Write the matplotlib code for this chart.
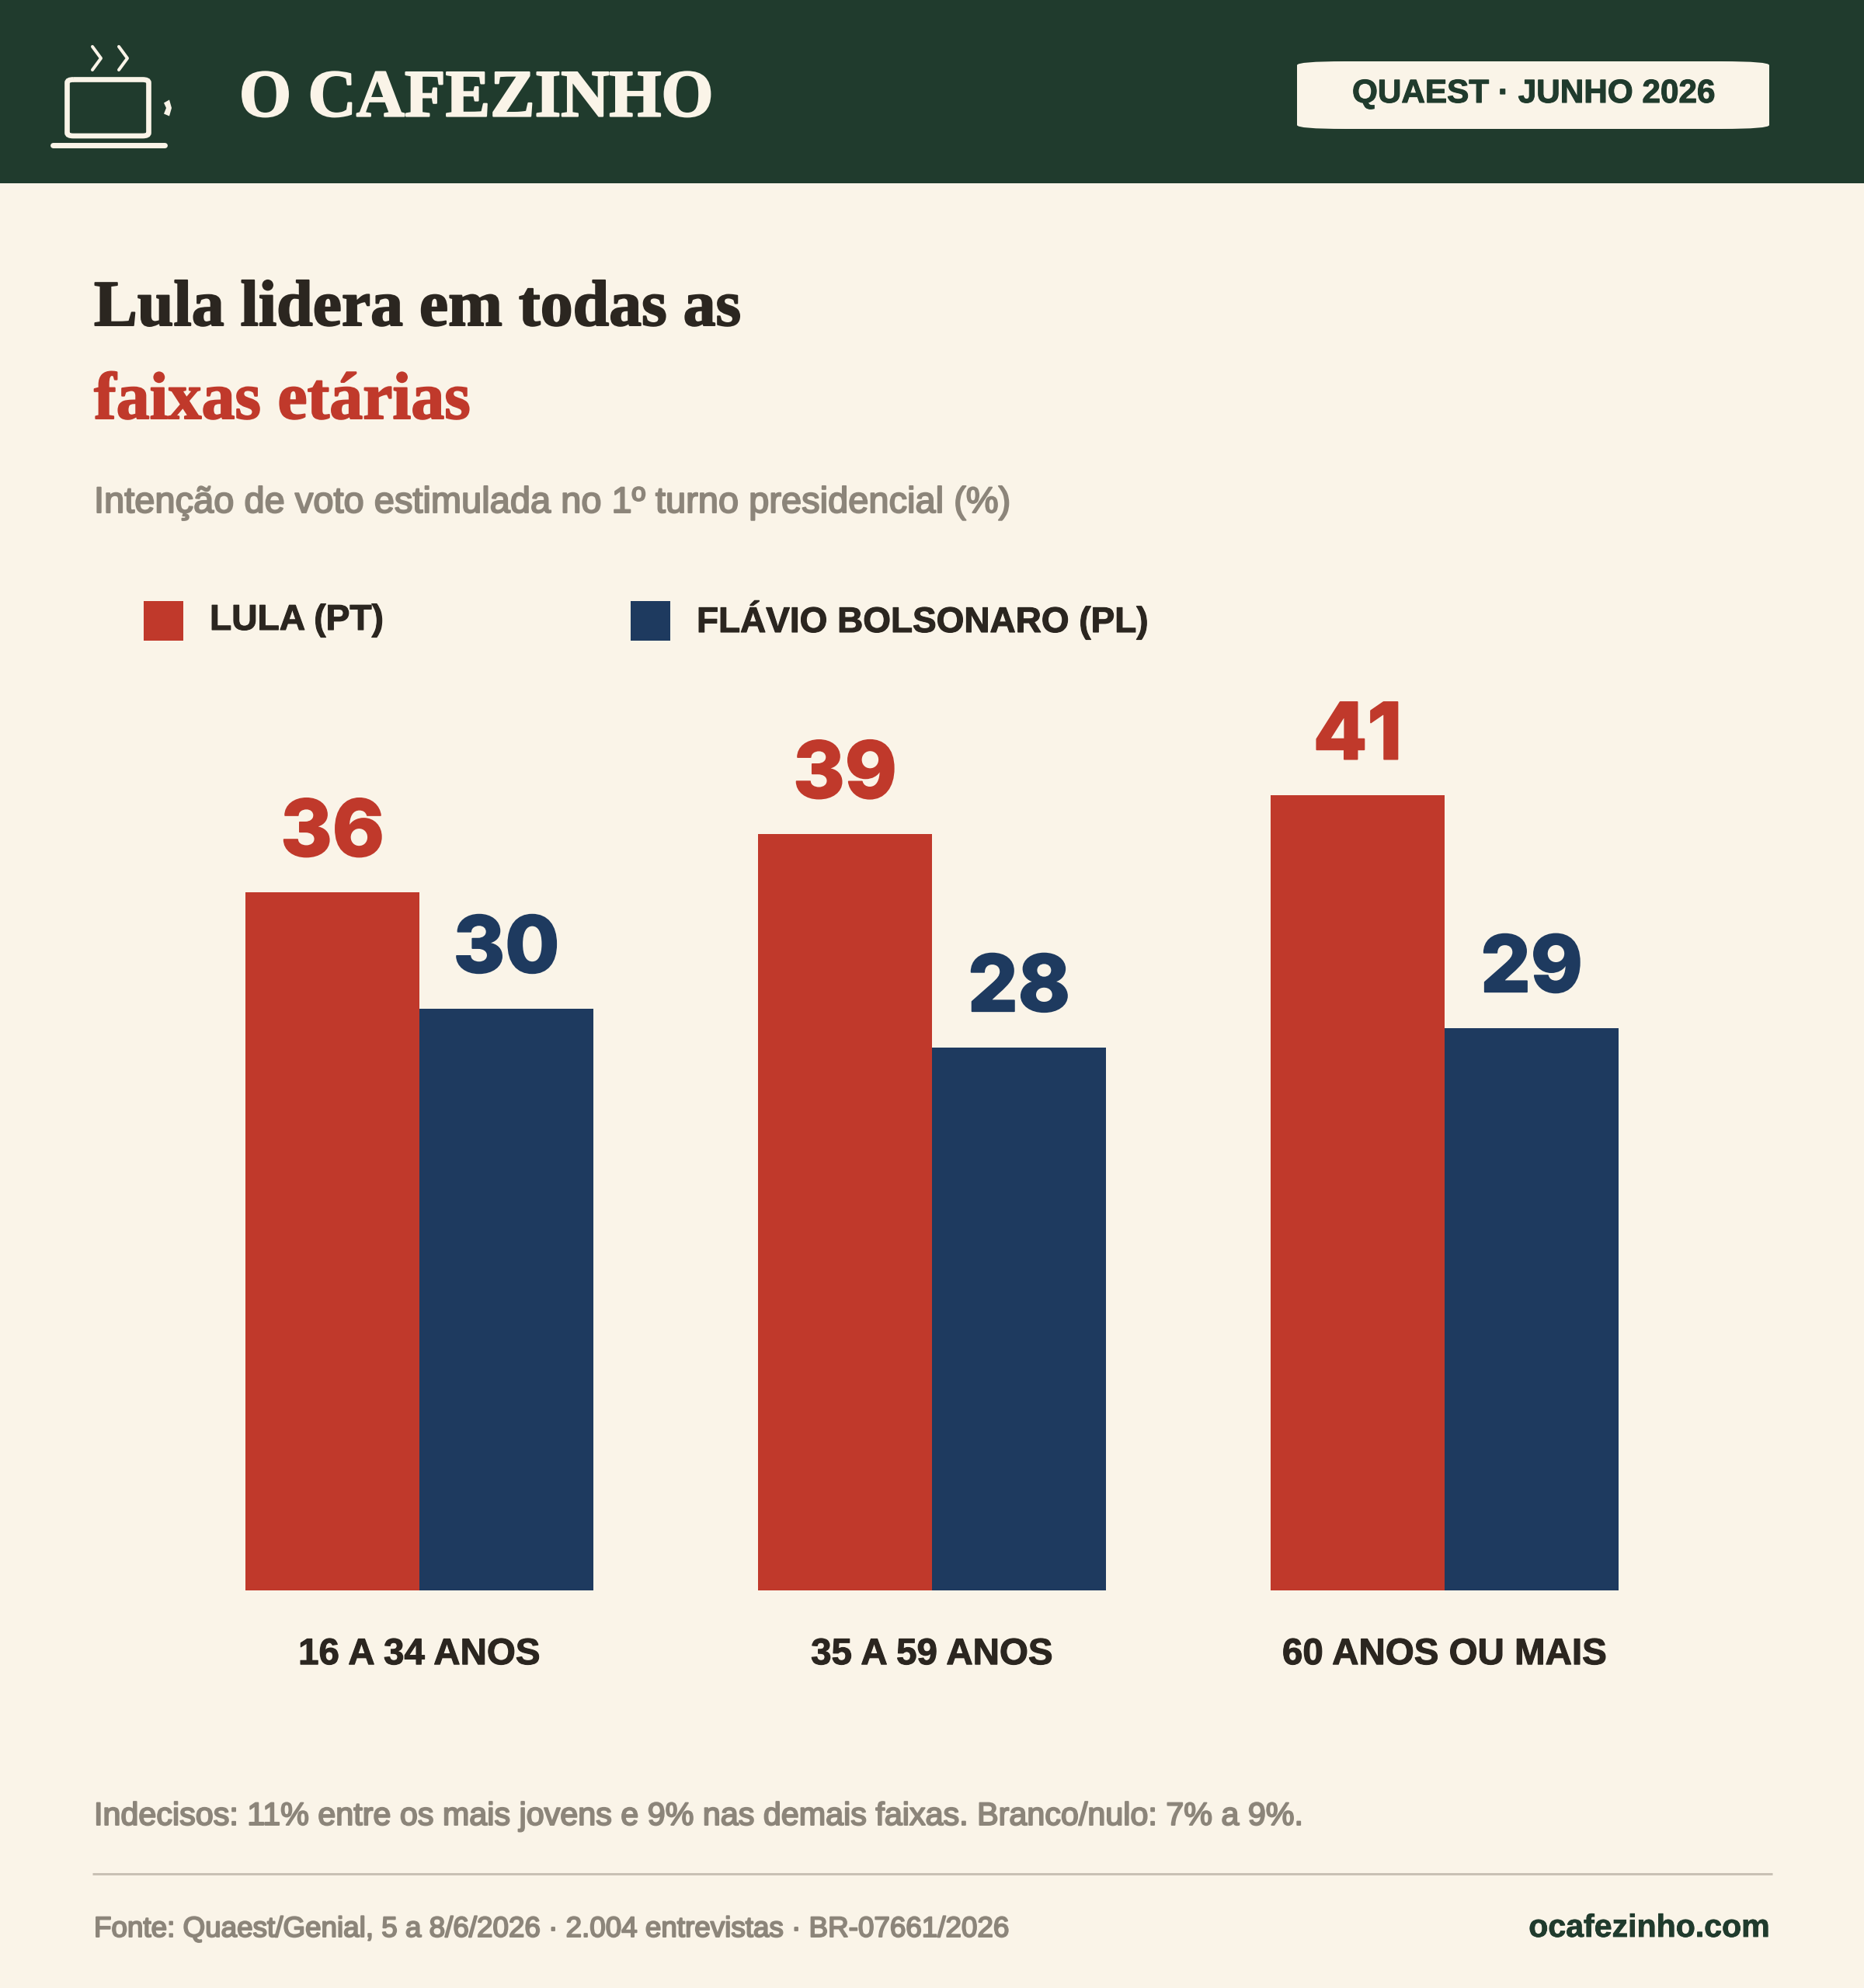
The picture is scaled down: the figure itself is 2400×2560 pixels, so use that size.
import matplotlib
matplotlib.use("Agg")
import matplotlib.pyplot as plt
import matplotlib.patheffects as pe
from matplotlib.patches import Rectangle, PathPatch
from matplotlib.path import Path

# data
categories = ["16 A 34 ANOS", "35 A 59 ANOS", "60 ANOS OU MAIS"]
lula = [36, 39, 41]
flavio = [30, 28, 29]
series_names = ["LULA (PT)", "FLÁVIO BOLSONARO (PL)"]

BG = "#FAF4E8"
GREEN = "#203B2D"
RED = "#C0392B"
NAVY = "#1E3A5F"
INK = "#2B2620"
GREY = "#8C857A"
SERIF = ["Liberation Serif"]
SANS = ["Liberation Sans"]

W, H = 2400, 2560
fig = plt.figure(figsize=(W / 100, H / 100), dpi=100, facecolor=BG)

# page layer, in pixels from the top left
page = fig.add_axes([0, 0, 1, 1])
page.set_xlim(0, W)
page.set_ylim(H, 0)
page.axis("off")


def box(x0, y0, x1, y1, rx, ry):
    # rectangle with squashed elliptical corners
    v = [(x0 + rx, y0), (x1 - rx, y0), (x1, y0), (x1, y0 + ry), (x1, y1 - ry), (x1, y1),
         (x1 - rx, y1), (x0 + rx, y1), (x0, y1), (x0, y1 - ry), (x0, y0 + ry), (x0, y0), (x0 + rx, y0)]
    c = [Path.MOVETO, Path.LINETO, Path.CURVE3, Path.CURVE3, Path.LINETO, Path.CURVE3, Path.CURVE3,
         Path.LINETO, Path.CURVE3, Path.CURVE3, Path.LINETO, Path.CURVE3, Path.CURVE3]
    return Path(v, c)


def heavy(t, color, w):
    # the source fonts are heavier than anything installed, so thicken with a thin outline
    t.set_path_effects([pe.withStroke(linewidth=w, foreground=color)])


def label(x, y, s, width, color, family=SANS, weight="bold", ha="left", extra=0.0):
    # font size is scaled until the text has the wanted width in pixels
    t = page.text(x, y, s, color=color, family=family, weight=weight, ha=ha, va="baseline", fontsize=40)
    w = t.get_window_extent(fig.canvas.get_renderer()).width
    t.set_fontsize(40 * width / w)
    if extra:
        heavy(t, color, extra)
    return t


# header
page.add_patch(Rectangle((0, 0), W, 236, color=GREEN, lw=0))
page.add_patch(PathPatch(box(86.5, 102.5, 191.5, 175, 8, 4), fc="none", ec=BG, lw=4.8))
page.plot([67.5, 211.5], [186.5, 186.5], color=BG, lw=5, solid_capstyle="round")
for sx in (119, 153):
    page.plot([sx, sx + 11, sx], [60, 75, 90], color=BG, lw=2.9, solid_capstyle="round")
page.fill([218, 221, 218, 211, 214, 211], [128.5, 139, 149.5, 146.5, 139, 132.5], color=BG, lw=0)
label(308, 149.5, "O CAFEZINHO", 610, BG, SERIF, extra=1.6)
page.add_patch(PathPatch(box(1670, 79, 2278, 166, 62, 5), fc=BG, ec="none"))
label(1741, 132, "QUAEST · JUNHO 2026", 467, GREEN, extra=0.8)

# titles
label(121, 419, "Lula lidera em todas as", 832, INK, SERIF, extra=1.4)
label(121, 539, "faixas etárias", 484, RED, SERIF, extra=1.4)
label(121, 660, "Intenção de voto estimulada no 1º turno presidencial (%)", 1180, GREY, weight="normal", extra=1.4)

# legend
page.add_patch(Rectangle((185, 774), 51, 51, color=RED, lw=0))
page.add_patch(Rectangle((812, 774), 51, 51, color=NAVY, lw=0))
label(270, 811, series_names[0], 224, INK, extra=0.8)
label(897, 814, series_names[1], 581, INK, extra=0.8)

# chart, scaled so one point is 24.97 px and groups are 660 px apart
left, right, top, base = 120, 2280, 900, 2048
ax = fig.add_axes([left / W, 1 - base / H, (right - left) / W, (base - top) / H])
ax.patch.set_alpha(0)
ax.set_xlim((left - 540) / 660, (right - 540) / 660)
ax.set_ylim(0, (base - top) / 24.97)
bw = 224 / 660
xs = list(range(len(categories)))
bars_a = ax.bar([x - bw / 2 for x in xs], lula, bw, color=RED, lw=0)
bars_b = ax.bar([x + bw / 2 for x in xs], flavio, bw, color=NAVY, lw=0)
ax.set_yticks([])
ax.set_xticks(xs)
ax.set_xticklabels(categories, fontsize=34.2, fontweight="bold", color=INK, family=SANS)
for t in ax.get_xticklabels():
    heavy(t, INK, 0.8)
ax.tick_params(axis="x", length=0, pad=44)
for s in ax.spines.values():
    s.set_visible(False)
for bars, col in ((bars_a, RED), (bars_b, NAVY)):
    for b in bars:
        n = ax.annotate(str(int(b.get_height())), (b.get_x() + b.get_width() / 2, b.get_height()),
                        xytext=(0, 33.5), textcoords="offset points", ha="center", va="baseline",
                        fontsize=73, fontweight=800, color=col, family=["Inter"])
        heavy(n, col, 1.2)

# footer
label(121, 2350, "Indecisos: 11% entre os mais jovens e 9% nas demais faixas. Branco/nulo: 7% a 9%.", 1556, GREY, weight="normal", extra=1.4)
page.plot([119, 2282], [2412.7, 2412.7], color="#C8C0B4", lw=2.16, solid_capstyle="butt")
label(121, 2494, "Fonte: Quaest/Genial, 5 a 8/6/2026 · 2.004 entrevistas · BR-07661/2026", 1177, GREY, weight="normal", extra=1.4)
label(2278, 2494, "ocafezinho.com", 310, GREEN, ha="right", extra=0.6)

fig.savefig("out.png", dpi=100, facecolor=BG)
